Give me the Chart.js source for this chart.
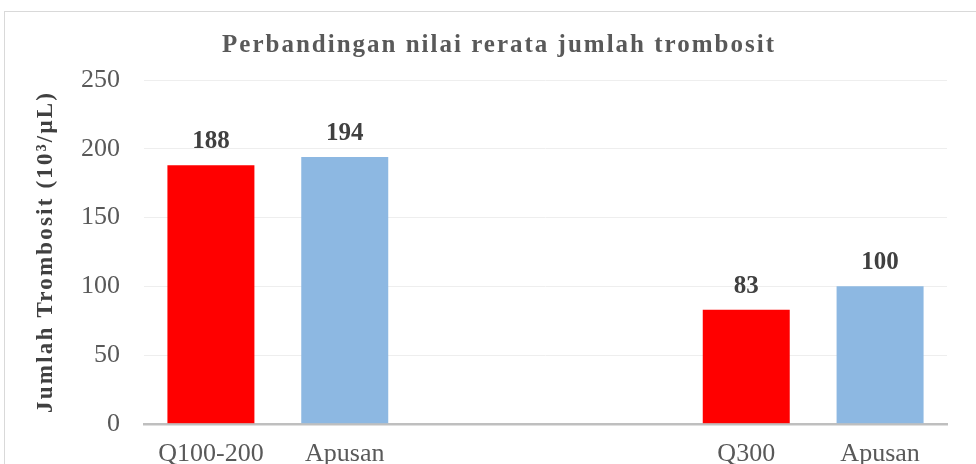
<!DOCTYPE html>
<html>
<head>
<meta charset="utf-8">
<script src="https://cdn.jsdelivr.net/npm/chart.js@4/dist/chart.umd.min.js"></script>
<style>
  html, body { margin: 0; padding: 0; background: #fff; overflow: hidden; width: 976px; height: 464px; }
  .frame { position: absolute; left: 4px; top: 11px; width: 1000px; height: 500px; border: 1px solid #d9d9d9; }
  #chart { position: absolute; left: 0; top: 0; }
</style>
</head>
<body>
<div class="frame"></div>
<canvas id="chart" width="976" height="498"></canvas>
<script>
// Chart data
const categories = ["Q100-200", "Apusan", "", "", "Q300", "Apusan"];
const values = [188, 194, null, null, 83, 100];
const barColors = ["#ff0000", "#8db8e2", "#ffffff", "#ffffff", "#ff0000", "#8db8e2"];
const yTicks = [0, 50, 100, 150, 200, 250];
const chartTitle = "Perbandingan nilai rerata jumlah trombosit";
const yTitle = "Jumlah Trombosit (10³/μL)";

const serif = "'Liberation Serif', 'Times New Roman', serif";
Chart.defaults.font.family = serif;

// Titles drawn by hand so they can be letter-spaced like the original
const spacedTitles = {
  id: "spacedTitles",
  afterDraw(chart) {
    const ctx = chart.ctx;
    const area = chart.chartArea;
    ctx.save();
    ctx.fillStyle = "#595959";
    ctx.font = "bold 25px " + serif;
    ctx.letterSpacing = "2px";
    ctx.textAlign = "center";
    ctx.textBaseline = "alphabetic";
    ctx.fillText(chartTitle, 499, 52);

    ctx.fillStyle = "#404040";
    ctx.font = "bold 23px " + serif;
    ctx.letterSpacing = "2.2px";
    ctx.translate(52, (area.top + area.bottom) / 2);
    ctx.rotate(-Math.PI / 2);
    ctx.fillText(yTitle, 0, 0);
    ctx.restore();
  },
};

// Draw the value above each bar
const valueLabels = {
  id: "valueLabels",
  afterDatasetsDraw(chart) {
    const ctx = chart.ctx;
    const meta = chart.getDatasetMeta(0);
    ctx.save();
    ctx.font = "bold 25px " + serif;
    ctx.fillStyle = "#404040";
    ctx.textAlign = "center";
    ctx.textBaseline = "alphabetic";
    meta.data.forEach(function (bar, i) {
      if (values[i] == null) return;
      ctx.fillText(String(values[i]), bar.x, bar.y - 17);
    });
    ctx.restore();
  },
};

new Chart(document.getElementById("chart").getContext("2d"), {
  type: "bar",
  data: {
    labels: categories,
    datasets: [
      {
        data: values,
        backgroundColor: barColors,
        categoryPercentage: 1,
        barPercentage: 0.65,
      },
    ],
  },
  options: {
    responsive: false,
    animation: false,
    layout: { padding: { left: 57, right: 29, top: 80, bottom: 21 } },
    plugins: {
      legend: { display: false },
      tooltip: { enabled: false },
      title: { display: false },
    },
    scales: {
      x: {
        grid: { display: false },
        border: { color: "#bfbfbf", width: 2.5 },
        ticks: {
          color: "#595959",
          font: { family: serif, size: 26 },
          padding: 7,
          maxRotation: 0,
        },
      },
      y: {
        min: 0,
        max: 250,
        afterBuildTicks: function (axis) {
          axis.ticks = yTicks.map(function (v) { return { value: v }; });
        },
        grid: { color: "#eeeeee", drawTicks: false },
        border: { display: false },
        ticks: {
          color: "#595959",
          font: { family: serif, size: 26 },
          padding: 24,
        },
      },
    },
  },
  plugins: [valueLabels, spacedTitles],
});
</script>
</body>
</html>
